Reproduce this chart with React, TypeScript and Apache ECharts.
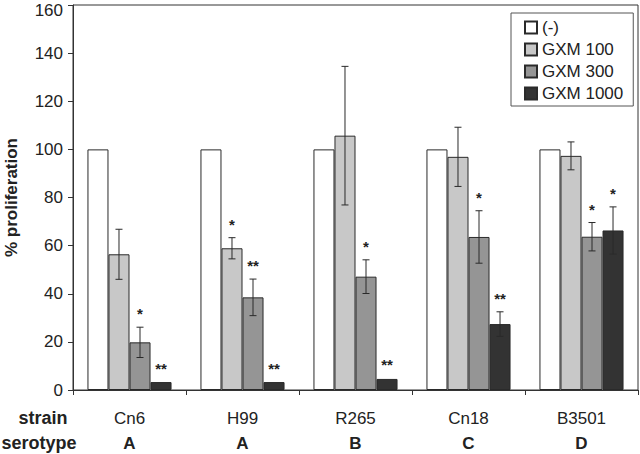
import React, { useEffect, useRef } from "react";
import * as echarts from "echarts";

const categories = ["Cn6", "H99", "R265", "Cn18", "B3501"];
const serotypes = ["A", "A", "B", "C", "D"];
const seriesNames = ["(-)", "GXM 100", "GXM 300", "GXM 1000"];
const ctrl = [100, 100, 100, 100, 100];
const gxm100 = [56.4, 58.9, 105.7, 96.9, 97.3];
const gxm300 = [19.8, 38.5, 47.1, 63.6, 63.7];
const gxm1000 = [3.3, 3.3, 4.6, 27.4, 66.3];
const err100 = [10.4, 4.4, 28.8, 12.3, 5.8];
const err300 = [6.3, 7.6, 7.0, 10.9, 5.9];
const err1000 = [0, 0, 0.3, 5.1, 9.8];
const stars100 = ["", "*", "", "", ""];
const stars300 = ["*", "**", "*", "*", "*"];
const stars1000 = ["**", "**", "**", "**", "*"];
const yTicks = [0, 20, 40, 60, 80, 100, 120, 140, 160];

const FONT = "'Liberation Sans', Arial, Helvetica, sans-serif";
const colors = ["#ffffff", "#c8c8c8", "#959595", "#333333"];
const BAR_FRAC = 0.186;

export default function App() {
  const ref = useRef<HTMLDivElement>(null);
  useEffect(() => {
    if (!ref.current) return;
    const chart = echarts.init(ref.current, null, { renderer: "svg" });
    const values = [ctrl, gxm100, gxm300, gxm1000];
    const errs = [null, err100, err300, err1000];
    const stars = [null, stars100, stars300, stars1000];

    const errData: any[] = [];
    for (let s = 1; s < 4; s++) {
      for (let i = 0; i < categories.length; i++) {
        errData.push([i, values[s][i], errs[s]![i], s, stars[s]![i]]);
      }
    }

    const barSeries = values.map((v, s) => ({
      type: "bar",
      name: seriesNames[s],
      data: v,
      barWidth: BAR_FRAC * 100 + "%",
      barGap: "0%",
      itemStyle: { color: colors[s], borderColor: "#2a2a2a", borderWidth: 1 },
    }));

    const yMax = yTicks[yTicks.length - 1];

    const option: any = {
      animation: false,
      textStyle: { fontFamily: FONT },
      grid: {
        left: 73,
        right: 2,
        top: 5,
        bottom: 64,
        containLabel: false,
        outerBoundsMode: "none",
        show: true,
        borderColor: "#333",
        borderWidth: 1,
      },
      legend: {
        orient: "vertical",
        left: 511,
        top: 13,
        width: 122,
        padding: [6, 10, 4, 13],
        itemGap: 5,
        itemWidth: 12,
        itemHeight: 12,
        icon: "rect",
        borderColor: "#555",
        borderWidth: 1,
        backgroundColor: "#fff",
        data: seriesNames,
        textStyle: { fontSize: 17, color: "#222", fontFamily: FONT, lineHeight: 17 },
      },
      xAxis: {
        type: "category",
        data: categories.map((c, i) => c + "\n{b|" + serotypes[i] + "}"),
        axisLine: { lineStyle: { color: "#333" } },
        axisTick: { show: true, length: 5, inside: false, lineStyle: { color: "#333" } },
        axisLabel: {
          fontSize: 17,
          color: "#222",
          margin: 16,
          lineHeight: 25,
          fontFamily: FONT,
          rich: { b: { fontSize: 17, fontWeight: "bold", color: "#222", fontFamily: FONT, lineHeight: 25 } },
        },
      },
      yAxis: {
        type: "value",
        min: 0,
        max: yMax,
        interval: 20,
        name: "% proliferation",
        nameLocation: "middle",
        nameGap: 53,
        nameTextStyle: { fontSize: 17, fontWeight: "bold", color: "#222", fontFamily: FONT },
        axisLine: { show: true, lineStyle: { color: "#333" } },
        axisTick: { show: true, length: 5, lineStyle: { color: "#333" } },
        axisLabel: {
          fontSize: 17,
          lineHeight: 12,
          color: "#222",
          margin: 10,
          fontFamily: FONT,
          formatter: (v: number) => (v === yMax ? "{t|" + v + "}" : yTicks.includes(v) ? String(v) : ""),
          rich: { t: { fontSize: 17, lineHeight: 12, color: "#222", fontFamily: FONT, padding: [10, 0, 0, 0] } },
        },
        splitLine: { show: false },
      },
      graphic: [
        {
          type: "text",
          x: 43,
          y: 418,
          style: { text: "strain", fontSize: 18, fontWeight: "bold", fontFamily: FONT, fill: "#222", align: "center", verticalAlign: "middle" },
        },
        {
          type: "text",
          x: 39,
          y: 443,
          style: { text: "serotype", fontSize: 18, fontWeight: "bold", fontFamily: FONT, fill: "#222", align: "center", verticalAlign: "middle" },
        },
      ],
      series: [
        ...barSeries,
        {
          type: "custom",
          data: errData,
          encode: { x: 0, y: 1 },
          z: 10,
          silent: true,
          renderItem: (params: any, api: any) => {
            const idx = api.value(0);
            const val = api.value(1);
            const err = api.value(2);
            const s = api.value(3);
            const star = errData[params.dataIndex][4];
            const band = api.size([1, 0])[0];
            const bw = band * BAR_FRAC;
            const c = api.coord([idx, val]);
            const x = c[0] + (s - 1.5) * bw;
            const top = api.coord([idx, val + err])[1];
            const bot = api.coord([idx, val - err])[1];
            const children: any[] = [];
            const st = { stroke: "#2a2a2a", lineWidth: 1 };
            if (err > 0.5) {
              children.push({ type: "line", shape: { x1: x, y1: top, x2: x, y2: bot }, style: st });
              children.push({ type: "line", shape: { x1: x - 3.5, y1: top, x2: x + 3.5, y2: top }, style: st });
              children.push({ type: "line", shape: { x1: x - 3.5, y1: bot, x2: x + 3.5, y2: bot }, style: st });
            }
            if (star) {
              children.push({
                type: "text",
                x: x,
                y: top - 6,
                style: { text: star, fontSize: 15, fontWeight: "bold", fontFamily: FONT, fill: "#222", align: "center", verticalAlign: "bottom" },
              });
            }
            return { type: "group", children };
          },
        },
      ],
    };
    chart.setOption(option);
    return () => chart.dispose();
  }, []);
  return <div ref={ref} style={{ width: 640, height: 454, position: "absolute", left: 0, top: 0 }} />;
}
